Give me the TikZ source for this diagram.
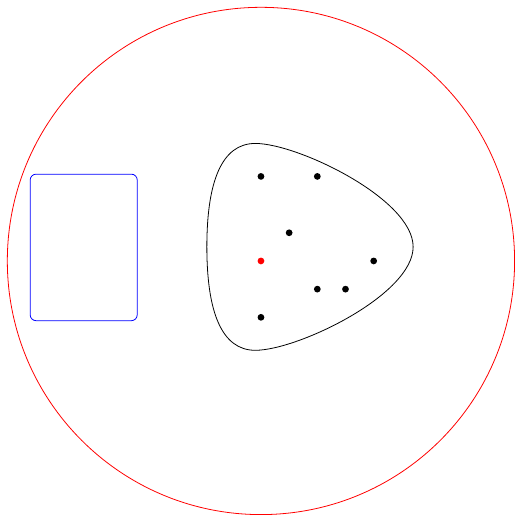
\documentclass[tikz,border=0pt]{standalone}
\usepackage{tikz}

\begin{document}
\begin{tikzpicture}
    \useasboundingbox (-9.26,-9.05) rectangle (9.05,9.26);
    \draw[red, thick] (0,0) circle (9);
    \draw[blue, thick, rounded corners=6pt] (-8.19,-2.12) rectangle (-4.39,3.08);
    \draw[thick] (-0.2,4.17) .. controls (-1.4,4.17) and (-1.92,2.8) .. (-1.92,0.5)
        .. controls (-1.92,-1.8) and (-1.4,-3.17) .. (-0.2,-3.17)
        .. controls (1.3,-3.17) and (5.4,-1.2) .. (5.4,0.5)
        .. controls (5.4,2.2) and (1.3,4.17) .. (-0.2,4.17) -- cycle;
    \fill (0,3) circle (0.12);
    \fill (2,3) circle (0.12);
    \fill (1,1) circle (0.12);
    \fill[red] (0,0) circle (0.12);
    \fill (4,0) circle (0.12);
    \fill (2,-1) circle (0.12);
    \fill (3,-1) circle (0.12);
    \fill (0,-2) circle (0.12);
\end{tikzpicture}
\end{document}
